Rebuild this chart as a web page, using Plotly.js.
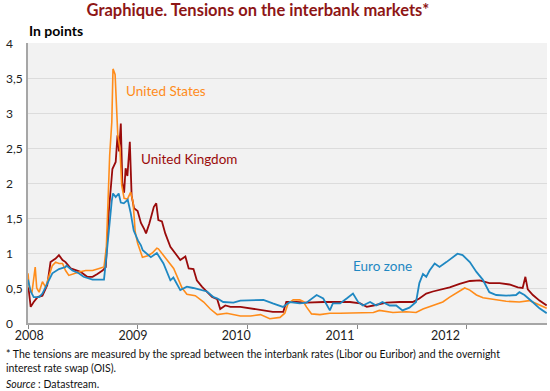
<!DOCTYPE html>
<html>
<head>
<meta charset="utf-8">
<script src="https://cdn.plot.ly/plotly-3.0.1.min.js"></script>
<style>
html,body{margin:0;padding:0;background:#fff;}
#chart{width:550px;height:391px;}
</style>
</head>
<body>
<div id="chart"></div>
<script>
// ---- Data ----
var ukDates = ["2008-01-01","2008-01-04","2008-01-10","2008-01-20","2008-02-02","2008-02-18","2008-03-05","2008-03-16","2008-04-02","2008-04-13","2008-04-25","2008-05-05","2008-05-22","2008-06-08","2008-06-24","2008-07-16","2008-08-03","2008-08-19","2008-09-05","2008-09-16","2008-09-26","2008-10-08","2008-10-19","2008-10-25","2008-10-30","2008-11-05","2008-11-10","2008-11-16","2008-11-21","2008-11-27","2008-12-05","2008-12-11","2008-12-19","2008-12-31","2009-01-11","2009-01-22","2009-01-28","2009-02-08","2009-02-13","2009-02-23","2009-03-03","2009-03-10","2009-03-22","2009-04-02","2009-04-19","2009-05-05","2009-05-22","2009-06-08","2009-06-19","2009-07-05","2009-07-16","2009-08-02","2009-08-19","2009-09-05","2009-09-22","2009-10-02","2009-10-19","2009-11-05","2009-12-08","2010-01-11","2010-02-02","2010-03-26","2010-04-30","2010-05-10","2010-06-13","2010-07-16","2010-09-11","2010-11-05","2010-12-08","2011-01-11","2011-02-02","2011-02-24","2011-04-08","2011-05-22","2011-07-05","2011-07-27","2011-08-19","2011-09-10","2011-10-02","2011-10-25","2011-11-05","2011-12-08","2012-01-11","2012-02-13","2012-03-16","2012-04-19","2012-05-22","2012-06-19","2012-07-05","2012-07-14","2012-07-22","2012-08-08","2012-08-30","2012-09-23"];
var ukValues = [0.51,0.45,0.23,0.30,0.37,0.39,0.54,0.87,0.92,0.97,0.90,0.87,0.78,0.75,0.73,0.66,0.66,0.70,0.75,0.80,1.59,2.20,2.30,2.68,2.45,2.85,2.01,1.86,2.21,2.10,2.59,1.82,1.64,1.60,1.43,1.34,1.28,1.42,1.51,1.66,1.71,1.47,1.45,1.28,1.09,0.99,0.90,0.95,0.78,0.77,0.61,0.52,0.45,0.37,0.34,0.20,0.25,0.23,0.23,0.21,0.20,0.16,0.16,0.30,0.30,0.29,0.30,0.30,0.30,0.28,0.23,0.25,0.29,0.30,0.30,0.35,0.42,0.45,0.47,0.49,0.51,0.56,0.60,0.61,0.57,0.57,0.55,0.51,0.50,0.66,0.48,0.40,0.32,0.25];

var usDates = ["2008-01-01","2008-01-05","2008-01-14","2008-01-21","2008-01-25","2008-01-30","2008-02-07","2008-02-18","2008-02-29","2008-03-10","2008-03-22","2008-04-02","2008-04-13","2008-04-25","2008-05-05","2008-05-16","2008-06-02","2008-06-19","2008-07-11","2008-08-03","2008-08-25","2008-09-10","2008-09-18","2008-09-21","2008-09-29","2008-10-06","2008-10-10","2008-10-17","2008-10-22","2008-10-26","2008-11-02","2008-11-08","2008-11-16","2008-11-27","2008-12-08","2008-12-16","2008-12-23","2008-12-31","2009-01-16","2009-02-03","2009-02-18","2009-03-05","2009-03-10","2009-03-22","2009-04-08","2009-04-30","2009-05-16","2009-05-28","2009-06-13","2009-07-11","2009-08-08","2009-08-30","2009-09-22","2009-10-24","2009-12-08","2010-01-11","2010-02-13","2010-03-16","2010-04-19","2010-05-05","2010-05-16","2010-06-02","2010-06-24","2010-07-05","2010-07-16","2010-08-02","2010-08-30","2010-10-02","2010-11-05","2010-12-08","2011-01-20","2011-02-24","2011-03-16","2011-04-30","2011-06-13","2011-07-16","2011-08-08","2011-09-10","2011-10-13","2011-11-05","2011-12-01","2011-12-25","2012-01-11","2012-02-02","2012-02-24","2012-03-27","2012-05-11","2012-06-24","2012-07-27","2012-08-19","2012-09-23"];
var usValues = [0.71,0.51,0.43,0.63,0.80,0.50,0.44,0.59,0.51,0.66,0.82,0.87,0.85,0.85,0.75,0.68,0.71,0.73,0.75,0.75,0.78,0.80,1.09,1.50,2.40,2.87,3.63,3.55,2.97,2.68,2.50,1.97,1.78,1.77,1.87,1.72,1.30,1.14,0.94,0.96,1.00,1.07,1.06,1.00,0.90,0.78,0.63,0.50,0.41,0.39,0.30,0.20,0.12,0.14,0.10,0.10,0.12,0.06,0.08,0.14,0.28,0.33,0.33,0.31,0.23,0.13,0.12,0.14,0.14,0.14,0.14,0.15,0.18,0.15,0.16,0.15,0.20,0.25,0.30,0.37,0.44,0.50,0.47,0.40,0.36,0.34,0.31,0.30,0.32,0.28,0.21];

var euDates = ["2008-01-01","2008-01-10","2008-01-20","2008-02-07","2008-02-18","2008-02-29","2008-03-22","2008-04-13","2008-05-05","2008-05-08","2008-05-28","2008-06-18","2008-07-04","2008-08-03","2008-09-10","2008-09-18","2008-09-26","2008-10-06","2008-10-10","2008-10-19","2008-10-29","2008-11-05","2008-11-15","2008-11-28","2008-12-08","2008-12-18","2009-01-01","2009-01-11","2009-01-17","2009-01-28","2009-02-13","2009-03-05","2009-03-27","2009-04-19","2009-04-29","2009-05-22","2009-06-13","2009-07-04","2009-07-27","2009-08-19","2009-09-10","2009-09-23","2009-10-12","2009-11-15","2009-12-08","2010-01-11","2010-02-02","2010-02-23","2010-03-26","2010-04-29","2010-05-22","2010-06-24","2010-07-16","2010-08-19","2010-09-10","2010-10-02","2010-10-12","2010-11-05","2010-11-27","2010-12-18","2011-01-04","2011-01-20","2011-02-13","2011-03-05","2011-03-26","2011-04-19","2011-05-11","2011-06-01","2011-06-24","2011-07-16","2011-07-27","2011-08-08","2011-08-19","2011-08-30","2011-09-16","2011-10-02","2011-10-25","2011-11-15","2011-12-01","2011-12-18","2012-01-11","2012-02-02","2012-02-23","2012-03-16","2012-04-08","2012-05-11","2012-06-13","2012-06-24","2012-07-11","2012-08-07","2012-08-30","2012-09-23"];
var euValues = [0.62,0.45,0.37,0.37,0.42,0.51,0.71,0.77,0.80,0.82,0.75,0.71,0.66,0.62,0.62,0.95,1.35,1.75,1.85,1.80,1.85,1.72,1.71,1.76,1.57,1.32,1.18,1.11,1.04,1.00,0.94,1.00,0.85,0.61,0.65,0.47,0.52,0.50,0.47,0.45,0.37,0.35,0.30,0.29,0.32,0.32,0.32,0.33,0.28,0.23,0.30,0.28,0.29,0.40,0.35,0.18,0.28,0.28,0.35,0.42,0.30,0.25,0.30,0.25,0.30,0.25,0.25,0.18,0.22,0.30,0.57,0.70,0.66,0.75,0.85,0.80,0.87,0.94,0.99,0.97,0.87,0.73,0.62,0.44,0.40,0.39,0.40,0.44,0.40,0.30,0.21,0.14];

var seriesNames = ["United Kingdom", "United States", "Euro zone"];
var yTickVals = [0, 0.5, 1, 1.5, 2, 2.5, 3, 3.5, 4];
var yTickText = ["0", "0,5", "1", "1,5", "2", "2,5", "3", "3,5", "4"];
var xLabelVals = ["2008-01-05", "2008-12-16", "2009-11-24", "2010-11-05", "2011-10-22"];
var xLabelText = ["2008", "2009", "2010", "2011", "2012"];
var yearStarts = ["2008-01-01", "2009-01-01", "2010-01-01", "2011-01-01", "2012-01-01"];

// ---- Styles ----
var FONT = "Lato, 'Liberation Sans', sans-serif";
var colUK = "#9a0b0b", colUS = "#ff8c1a", colEU = "#1f88c2";

var traces = [
  {x: ukDates, y: ukValues, name: seriesNames[0], type: "scatter", mode: "lines", line: {color: colUK, width: 1.8}},
  {x: usDates, y: usValues, name: seriesNames[1], type: "scatter", mode: "lines", line: {color: colUS, width: 1.6}},
  {x: euDates, y: euValues, name: seriesNames[2], type: "scatter", mode: "lines", line: {color: colEU, width: 1.8}}
];

var annotations = [];
for (var i = 0; i < yTickVals.length; i++) {
  annotations.push({xref: "paper", yref: "y", x: -0.046, y: yTickVals[i], xanchor: "left", yanchor: "middle",
    text: yTickText[i], showarrow: false, font: {family: FONT, size: 12, color: "#222"}});
}
annotations.push(
  {xref: "x", yref: "y", x: "2008-11-14", y: 3.32, xanchor: "left", yanchor: "middle", text: seriesNames[1], showarrow: false, font: {family: FONT, size: 13.5, color: colUS}},
  {xref: "x", yref: "y", x: "2009-01-04", y: 2.34, xanchor: "left", yanchor: "middle", text: seriesNames[0], showarrow: false, font: {family: FONT, size: 13.5, color: colUK}},
  {xref: "x", yref: "y", x: "2010-12-13", y: 0.82, xanchor: "left", yanchor: "middle", text: seriesNames[2], showarrow: false, font: {family: FONT, size: 13.5, color: colEU}},
  {xref: "paper", yref: "paper", x: -0.002, y: 1.0, xanchor: "left", yanchor: "bottom", yshift: 2, text: "<b>In points</b>", showarrow: false, font: {family: FONT, size: 14, color: "#000"}},
  {xref: "paper", yref: "paper", x: -0.047, y: -0.083, xanchor: "left", yanchor: "top", align: "left",
    text: "* The tensions are measured by the spread between the interbank rates (Libor ou Euribor) and the overnight<br>interest rate swap (OIS).",
    showarrow: false, font: {family: FONT, size: 10.5, color: "#111"}},
  {xref: "paper", yref: "paper", x: -0.047, y: -0.188, xanchor: "left", yanchor: "top", align: "left",
    text: "<i>Source</i> : Datastream.", showarrow: false, font: {family: FONT, size: 10.5, color: "#111"}}
);

var layout = {
  width: 550, height: 391,
  margin: {l: 28, r: 3, t: 43, b: 68, pad: 0},
  paper_bgcolor: "#ffffff",
  plot_bgcolor: "#f2f2f2",
  showlegend: false,
  hovermode: false,
  title: {text: "<b>Graphique. Tensions on the interbank markets*</b>", x: 0.469, xanchor: "center", y: 0.975, yanchor: "middle",
    font: {family: FONT, size: 16.5, color: "#8e1616"}},
  xaxis: {
    type: "date",
    range: ["2008-01-01", "2012-09-24"],
    tickmode: "array", tickvals: xLabelVals, ticktext: xLabelText,
    ticks: "", showgrid: false, zeroline: false,
    showline: true, linecolor: "#a6a6a6", linewidth: 2,
    tickfont: {family: FONT, size: 12.5, color: "#222"},
    minor: {tickmode: "array", tickvals: yearStarts, ticks: "outside", ticklen: 4, tickwidth: 1, tickcolor: "#888", showgrid: false}
  },
  yaxis: {
    range: [0, 4],
    tickmode: "array", tickvals: yTickVals, ticktext: yTickText,
    showticklabels: false, ticks: "",
    showgrid: true, gridcolor: "#dcdcdc", gridwidth: 1,
    zeroline: false, showline: true, linecolor: "#a6a6a6", linewidth: 2
  },
  annotations: annotations
};

Plotly.newPlot("chart", traces, layout, {displayModeBar: false, staticPlot: true});
</script>
</body>
</html>
